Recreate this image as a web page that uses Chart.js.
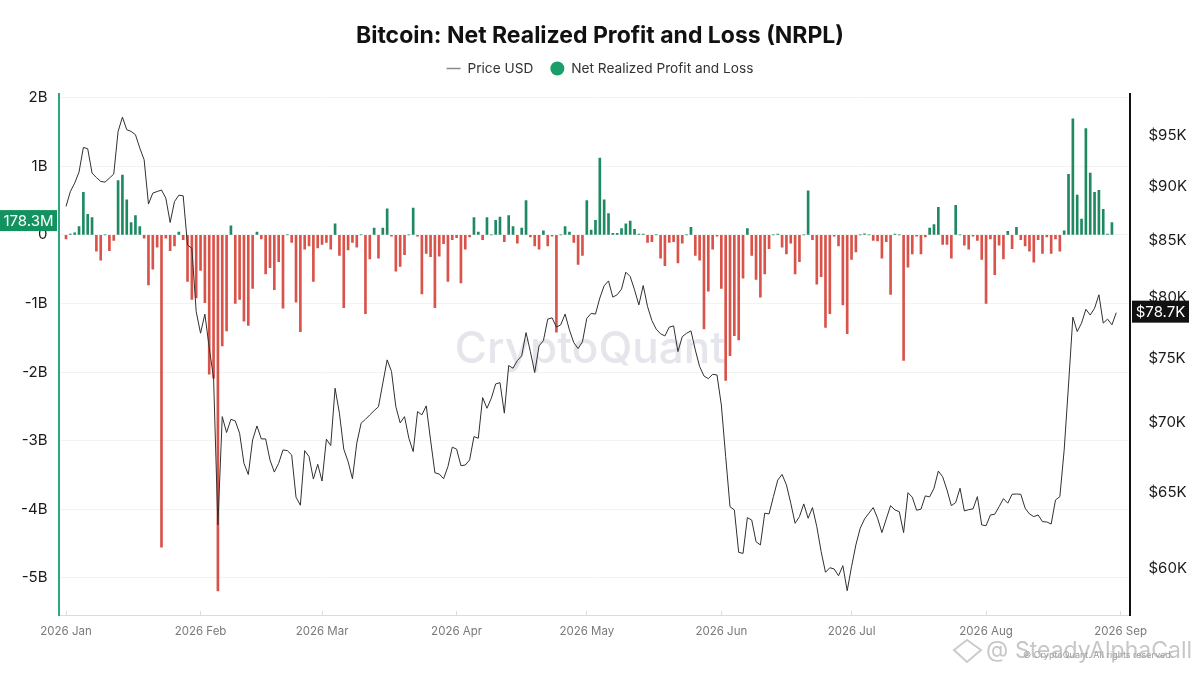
<!DOCTYPE html>
<html>
<head>
<meta charset="utf-8">
<title>Bitcoin NRPL</title>
<script src="https://cdn.jsdelivr.net/npm/chart.js@4"></script>
<style>
    html, body { margin: 0; padding: 0; background: #fff; }
    canvas { display: block; }
</style>
</head>
<body>
<canvas id="nrpl" width="1200" height="675"></canvas>
<script>
// one value per day, starting 2026 Jan 1
const nrplBillions = [
    -0.06, 0.01, 0.03, 0.12, 0.62, 0.30, 0.25, -0.24, -0.37, 0, -0.23, -0.08, 0.79, 0.87, 0.51, 0.18, 0.28, 0.12, -0.05, -0.73,
    -0.50, -0.18, -4.55, -0.05, -0.23, -0.16, 0.04, -0.07, -0.68, -0.94, -0.92, -0.52, -0.99, -2.03, -2.09, -5.19, -1.62, -1.40, 0.13, -1.00,
    -0.94, -1.26, -1.32, -0.78, 0.04, -0.06, -0.57, -0.48, -0.80, -0.39, -1.07, 0, -0.11, -0.98, -1.41, -0.21, -0.16, -0.68, -0.19, -0.14,
    -0.11, -0.21, 0.16, -0.30, -1.06, -0.22, -0.11, -0.18, 0, -1.15, -0.35, 0.10, -0.34, 0.10, 0.38, -0.02, -0.53, -0.46, -0.29, 0,
    0.39, -0.02, -0.86, -0.27, -0.32, -1.06, -0.31, -0.13, -0.68, -0.07, -0.04, -0.70, -0.21, -0.03, 0.25, 0.04, -0.07, 0.25, 0, 0.21,
    0.26, -0.10, 0.28, 0.12, -0.12, 0.10, 0.50, -0.03, -0.16, -0.21, 0.06, -0.16, -0.02, -1.42, 0, 0.12, 0.04, -0.11, -0.43, -0.30,
    0.50, 0.07, 0.21, 1.12, 0.51, 0.31, 0.02, 0.02, 0.09, 0.16, 0.20, 0.08, 0.01, 0.01, -0.11, -0.10, 0, -0.34, -0.45, -0.11,
    -0.10, -0.41, -0.12, 0, 0.11, -0.30, -0.37, -1.37, -0.82, -0.21, -0.02, -0.78, -2.12, -1.76, -1.47, -1.53, -0.63, 0.09, -0.30, -0.65,
    -0.91, -0.57, -0.20, 0, 0.01, -0.18, -0.28, -0.12, -0.57, -0.39, 0, 0.64, -0.07, -0.72, -0.61, -1.35, -1.15, -0.02, -0.16, -1.02,
    -1.44, -0.36, -0.25, 0, 0.015, 0, -0.08, -0.09, -0.34, -0.10, -0.87, 0.01, 0, -1.83, -0.47, -0.28, -0.02, -0.28, -0.03, 0.10,
    0.15, 0.40, -0.14, -0.14, -0.34, 0.43, 0, -0.15, -0.21, -0.02, -0.08, -0.36, -1.00, -0.06, -0.58, -0.15, -0.35, 0.05, -0.20, 0.11,
    -0.07, -0.16, -0.24, -0.40, -0.07, -0.27, -0.03, -0.27, -0.06, -0.24, 0.06, 0.88, 1.69, 0.58, 0.23, 1.55, 0.90, 0.62, 0.65, 0.37,
    0.01, 0.1783
];
const priceUsdK = [
    88.10, 89.51, 90.31, 91.38, 93.80, 93.67, 91.28, 90.85, 90.47, 90.41, 90.79, 91.18, 95.41, 96.87, 95.58, 95.41, 95.08, 93.74, 92.58, 88.32,
    89.36, 89.51, 89.65, 88.88, 86.61, 88.56, 89.16, 89.10, 84.57, 84.27, 78.78, 77.00, 78.58, 75.81, 73.43, 62.81, 70.47, 69.29, 70.27, 70.15,
    69.24, 67.06, 66.27, 68.75, 69.78, 68.82, 68.82, 67.30, 66.44, 67.06, 68.02, 67.97, 67.66, 64.69, 64.14, 67.97, 67.54, 65.95, 66.99, 65.81,
    68.80, 68.34, 72.63, 70.73, 68.08, 67.18, 65.97, 68.51, 69.98, 70.27, 70.60, 70.92, 71.22, 73.02, 74.85, 73.93, 71.22, 70.00, 70.47, 68.87,
    67.90, 70.85, 70.60, 71.28, 68.75, 66.39, 66.30, 65.97, 66.82, 68.22, 68.08, 66.89, 66.94, 67.30, 68.99, 68.87, 71.91, 71.10, 71.86, 72.96,
    73.06, 70.73, 74.40, 74.19, 74.79, 75.17, 77.05, 75.51, 73.85, 75.97, 76.39, 78.16, 78.27, 77.50, 77.69, 78.58, 77.27, 76.23, 75.75, 76.31,
    78.22, 78.64, 78.58, 79.93, 80.98, 81.40, 80.01, 80.21, 80.69, 82.16, 81.78, 80.63, 79.35, 81.00, 79.21, 78.04, 77.33, 76.95, 76.78, 77.50,
    77.60, 75.51, 76.72, 77.00, 77.19, 75.65, 74.32, 73.58, 73.37, 73.71, 73.66, 71.35, 67.54, 64.04, 63.82, 61.01, 60.94, 63.30, 63.14, 61.70,
    61.49, 63.60, 63.55, 64.73, 65.88, 66.27, 65.54, 64.28, 62.92, 63.37, 64.23, 63.26, 63.98, 62.70, 61.05, 59.73, 60.02, 59.94, 59.51, 60.15,
    58.57, 60.08, 61.49, 62.59, 63.21, 63.60, 63.98, 63.26, 62.30, 63.21, 64.11, 63.82, 63.70, 62.30, 65.00, 64.69, 63.80, 63.87, 64.78, 64.71,
    65.31, 66.51, 66.11, 65.19, 64.11, 64.32, 65.31, 63.75, 63.84, 63.89, 64.73, 62.81, 62.76, 63.48, 63.53, 64.04, 64.59, 64.28, 64.89, 64.91,
    64.89, 63.94, 63.55, 63.37, 63.48, 63.03, 63.01, 62.87, 64.50, 64.73, 68.02, 72.88, 78.33, 77.14, 77.83, 78.98, 78.50, 79.07, 80.21, 77.83,
    78.16, 77.69, 78.70
];
const monthStartDays = [0, 31, 59, 90, 120, 151, 181, 212, 243];
const monthLabels = ['2026 Jan', '2026 Feb', '2026 Mar', '2026 Apr', '2026 May', '2026 Jun', '2026 Jul', '2026 Aug', '2026 Sep'];
const leftTicks = [-5, -4, -3, -2, -1, 0, 1, 2];
const leftTickLabels = ['-5B', '-4B', '-3B', '-2B', '-1B', '0', '1B', '2B'];
const rightTicks = [60, 65, 70, 75, 80, 85, 90, 95];
const rightTickLabels = ['$60K', '$65K', '$70K', '$75K', '$80K', '$85K', '$90K', '$95K'];

const FONT = 'Inter, "Noto Sans", sans-serif';
const GREEN = '#1f8a62';
const RED = '#d9534a';

// tags on the axes and the faint watermarks
const decorations = {
    id: 'decorations',
    beforeDatasetsDraw(chart) {
        const ctx = chart.ctx;
        ctx.save();
        ctx.fillStyle = '#e5e6ec';
        ctx.font = '500 44px ' + FONT;
        ctx.textAlign = 'center';
        ctx.textBaseline = 'middle';
        ctx.fillText('CryptoQuant', 590, 350);
        ctx.restore();
    },
    afterDraw(chart) {
        const ctx = chart.ctx;
        const left = chart.scales.y;
        const right = chart.scales.y1;
        ctx.save();
        ctx.textBaseline = 'middle';
        ctx.font = '15px ' + FONT;

        // last NRPL value
        const lastNrpl = nrplBillions[nrplBillions.length - 1];
        const ly = left.getPixelForValue(lastNrpl) - 2;
        ctx.fillStyle = '#12925f';
        ctx.fillRect(0, ly - 10.5, 57, 21);
        ctx.fillStyle = '#fff';
        ctx.textAlign = 'center';
        ctx.fillText((lastNrpl * 1000).toFixed(1) + 'M', 28.5, ly + 0.5);

        // last price
        const lastPrice = priceUsdK[priceUsdK.length - 1];
        const ry = right.getPixelForValue(lastPrice) - 1;
        ctx.fillStyle = '#111';
        ctx.fillRect(1132, ry - 11, 57, 22);
        ctx.fillStyle = '#fff';
        ctx.fillText('$' + lastPrice.toFixed(1) + 'K', 1160.5, ry + 0.5);

        // bottom right credits
        ctx.textAlign = 'left';
        ctx.fillStyle = '#9a9a9a';
        ctx.font = '9px ' + FONT;
        ctx.fillText('© CryptoQuant. All rights reserved.', 1023, 655);
        ctx.fillStyle = 'rgba(175, 175, 175, 0.7)';
        ctx.font = '23px ' + FONT;
        ctx.fillText('@', 986, 650);
        ctx.fillText('SteadyAlphaCall', 1015, 651);
        ctx.strokeStyle = 'rgba(190, 190, 190, 0.8)';
        ctx.lineWidth = 2;
        ctx.beginPath();
        ctx.moveTo(954, 650);
        ctx.lineTo(967, 640);
        ctx.lineTo(981, 650);
        ctx.lineTo(967, 662);
        ctx.closePath();
        ctx.stroke();
        ctx.restore();
    }
};

function createNrplChart(){
    const canvas = document.querySelector('#nrpl');
    let options = {
        type: 'bar',
        data: {
            datasets: [{
                type: 'line',
                label: 'Price USD',
                data: priceUsdK.map((v, i) => ({ x: i, y: v })),
                yAxisID: 'y1',
                borderColor: '#303030',
                borderWidth: 1,
                pointRadius: 0,
                tension: 0,
                order: 0,
            }, {
                type: 'bar',
                label: 'Net Realized Profit and Loss',
                data: nrplBillions.map((v, i) => ({ x: i, y: v })),
                yAxisID: 'y',
                barThickness: 2,
                backgroundColor: (c) => (c.raw && c.raw.y >= 0 ? GREEN : RED),
                order: 1,
            }],
        },
        options: {
            responsive: false,
            animation: false,
            devicePixelRatio: 1,
            layout: { padding: 0 },
            scales: {
                x: {
                    type: 'linear',
                    offset: false,
                    min: -1.73,
                    max: 245.05,
                    afterFit: (s) => { s.height = 60; },
                    afterBuildTicks: (s) => { s.ticks = monthStartDays.map((d) => ({ value: d })); },
                    border: { color: '#dcdcdc', width: 1 },
                    grid: { offset: false, drawOnChartArea: false, tickLength: -4, color: '#dcdcdc' },
                    ticks: {
                        autoSkip: false,
                        maxRotation: 0,
                        padding: 14,
                        color: '#7a7a7a',
                        font: { family: FONT, size: 11.5 },
                        callback: (v, i) => monthLabels[i],
                    },
                },
                y: {
                    position: 'left',
                    min: -5.54,
                    max: 2.055,
                    afterFit: (s) => { s.width = 58.5; },
                    afterBuildTicks: (s) => { s.ticks = leftTicks.map((v) => ({ value: v })); },
                    border: { color: '#2fa77a', width: 2 },
                    grid: { color: '#f3f3f3', drawTicks: false },
                    ticks: {
                        padding: 11,
                        color: '#1a1a1a',
                        font: { family: FONT, size: 15 },
                        callback: (v, i) => leftTickLabels[i],
                    },
                },
                y1: {
                    type: 'logarithmic',
                    position: 'right',
                    min: 57.08,
                    max: 99.3,
                    afterFit: (s) => { s.width = 70.5; },
                    afterBuildTicks: (s) => { s.ticks = rightTicks.map((v) => ({ value: v })); },
                    border: { color: '#111', width: 2 },
                    grid: { display: false, drawOnChartArea: false },
                    ticks: {
                        padding: 11,
                        color: '#1a1a1a',
                        font: { family: FONT, size: 15 },
                        callback: (v, i) => rightTickLabels[i],
                    },
                },
            },
            plugins: {
                title: {
                    display: true,
                    text: 'Bitcoin: Net Realized Profit and Loss (NRPL)',
                    color: '#111',
                    font: { family: FONT, size: 23, weight: '700' },
                    // negative so the legend's wide padding still leaves it close under the title
                    padding: { top: 22, bottom: -5 },
                },
                // empty line under the legend, keeps the plot down from it
                subtitle: {
                    display: true,
                    text: ' ',
                    weight: 500,
                    font: { size: 1 },
                    padding: { top: 7.3, bottom: 0 },
                },
                legend: {
                    display: true,
                    position: 'top',
                    labels: {
                        usePointStyle: true,
                        pointStyleWidth: 14,
                        boxHeight: 10,
                        padding: 17,
                        color: '#333',
                        font: { family: FONT, size: 13.7 },
                        generateLabels: () => [
                            { text: 'Price USD', pointStyle: 'line', strokeStyle: '#8a8a8a', fillStyle: '#8a8a8a', lineWidth: 1.5, fontColor: '#333', datasetIndex: 0 },
                            { text: 'Net Realized Profit and Loss', pointStyle: 'circle', strokeStyle: '#1a9e6a', fillStyle: '#1a9e6a', lineWidth: 0, fontColor: '#333', datasetIndex: 1 },
                        ],
                    },
                },
                tooltip: { enabled: false },
            },
        },
        plugins: [decorations],
    };
    const chart = new Chart(canvas.getContext('2d'), options);
}

createNrplChart();
</script>
</body>
</html>
